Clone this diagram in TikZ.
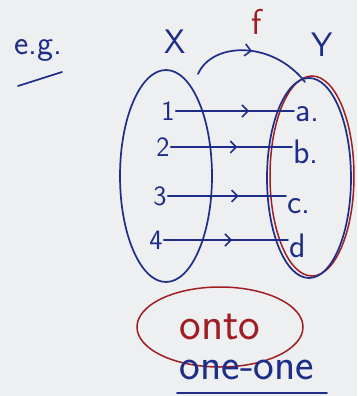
\documentclass[tikz,border=0pt]{standalone}
\usepackage{tikz}
\usepackage{xcolor}
\usetikzlibrary{shapes.geometric,decorations.markings,arrows.meta}
\definecolor{penblue}{RGB}{30,45,135}
\definecolor{penred}{RGB}{160,30,35}
\definecolor{board}{RGB}{237,239,241}
\begin{document}
\begin{tikzpicture}[x=1pt,y=-1pt,
  pen/.style={draw=penblue,line width=1.7pt,line cap=round},
  redpen/.style={draw=penred,line width=1.5pt},
  txt/.style={text=penblue,font=\sffamily\fontsize{#1}{#1}\selectfont,inner sep=1pt},
  txt/.default=26,
  midarrow/.style={postaction={decorate},decoration={markings,
    mark=at position #1 with {\arrow[penblue,line width=1.6pt]{Straight Barb[length=6pt,width=12pt]}}}}]
\fill[board] (0,0) rectangle (357,396);
\useasboundingbox (0,0) rectangle (357,396);
% sets
\draw[pen] (166,176) ellipse [x radius=46, y radius=106];
\draw[redpen] (312,176) ellipse [x radius=42, y radius=100];
\draw[pen] (309,178) ellipse [x radius=42, y radius=100];
% labels
\node[txt=34] (eg) at (38,50) {e.g.};
\coordinate (ul1) at (18,86); \coordinate (ul2) at (62,72);
\draw[pen] (ul1) -- (ul2);
\node[txt=34] (X) at (175,42) {X}; \node[txt=36,text=penred] (f) at (257,22) {f};
\node[txt=34] (Y) at (322,45) {Y};
% the map f
\coordinate (fs) at (198,74); \coordinate (fe) at (305,82);
\draw[pen,midarrow=0.5] (fs) .. controls (212,42) and (272,40) .. (fe);
% elements
\node[txt=28] (n1) at (168,111) {1}; \node[txt=28] (n2) at (163,147) {2};
\node[txt=28] (n3) at (160,196) {3}; \node[txt=28] (n4) at (156,240) {4};
\node[txt=34,anchor=west] (a) at (294,114) {a.}; \node[txt=34,anchor=west] (b) at (292,152) {b.};
\node[txt=34,anchor=west] (c) at (286,206) {c.}; \node[txt=34,anchor=west] (d) at (288,246) {d};
\draw[pen,midarrow=0.62] (n1.east) -- (a.west |- n1.east);
\draw[pen,midarrow=0.55] (n2.east) -- (b.west |- n2.east);
\draw[pen,midarrow=0.6] (n3.east) -- (c.west |- n3.east);
\draw[pen,midarrow=0.55] (n4.east) -- (d.west |- n4.east);
% remarks
\node[txt=46,text=penred,draw=penred,line width=1.5pt,ellipse,inner sep=0pt,minimum width=166pt,minimum height=80pt] (onto) at (220,327) {onto};
\node[txt=44] (oneone) at (247,370) {one-one};
\coordinate (ol1) at (177,393); \coordinate (ol2) at (327,393);
\draw[pen] (ol1) -- (ol2);
\end{tikzpicture}
\end{document}
